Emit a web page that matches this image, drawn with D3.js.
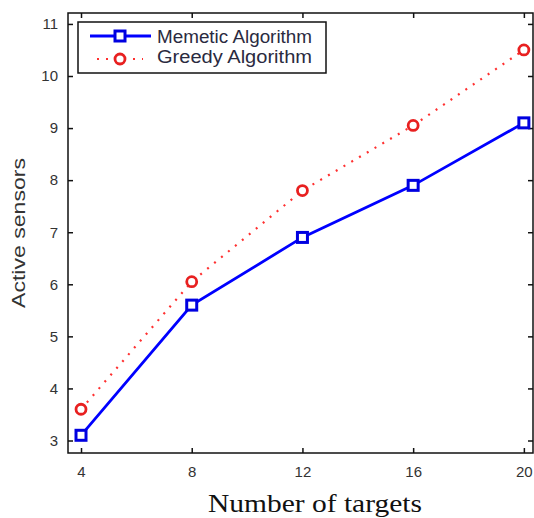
<!DOCTYPE html>
<html><head><meta charset="utf-8">
<script src="https://cdn.jsdelivr.net/npm/d3@7"></script>
<style>body{margin:0;background:#fff}</style>
</head><body>
<script>
const targets = [4, 8, 12, 16, 20];
const memetic = [3.1, 5.6, 6.9, 7.9, 9.1];
const greedy = [3.6, 6.05, 7.8, 9.05, 10.5];
const xTicks = [4, 8, 12, 16, 20];
const yTicks = [3, 4, 5, 6, 7, 8, 9, 10, 11];
const seriesNames = ["Memetic Algorithm", "Greedy Algorithm"];

const W = 534, H = 518;
const L = 68, R = 533, T = 13, B = 453;
const svg = d3.select("body").append("svg").attr("width", W).attr("height", H);

const x = d3.scaleLinear().domain([3.53, 20.33]).range([L, R]);
const y = d3.scaleLinear().domain([2.76, 11.21]).range([B, T]);

const tk = 5;
const axB = svg.append("g").attr("transform", `translate(0,${B})`)
  .call(d3.axisBottom(x).tickValues(xTicks).tickSize(-tk).tickPadding(13).tickFormat(d3.format("d")));
const axT = svg.append("g").attr("transform", `translate(0,${T})`)
  .call(d3.axisTop(x).tickValues(xTicks).tickSize(-tk).tickFormat(""));
const axL = svg.append("g").attr("transform", `translate(${L},0)`)
  .call(d3.axisLeft(y).tickValues(yTicks).tickSize(-tk).tickPadding(10).tickFormat(d3.format("d")));
const axR = svg.append("g").attr("transform", `translate(${R},0)`)
  .call(d3.axisRight(y).tickValues(yTicks).tickSize(-tk).tickFormat(""));
[axB, axT, axL, axR].forEach(g => {
  g.select(".domain").remove();
  g.selectAll(".tick line").attr("stroke", "#111").attr("stroke-width", 1.5);
  g.selectAll("text").attr("fill", "#333").style("font-family", "Liberation Sans, Arial, sans-serif").style("font-size", "15px");
});

svg.append("rect").attr("x", L).attr("y", T).attr("width", R - L).attr("height", B - T)
  .attr("fill", "none").attr("stroke", "#111").attr("stroke-width", 1.5);

const line = d3.line().x((d, i) => x(targets[i])).y(d => y(d));

svg.append("path").datum(greedy).attr("d", line).attr("fill", "none")
  .attr("stroke", "#ff3030").attr("stroke-width", 2.2).attr("stroke-dasharray", "2,7");
svg.append("path").datum(memetic).attr("d", line).attr("fill", "none")
  .attr("stroke", "#0000ff").attr("stroke-width", 2.8);

svg.selectAll(".gm").data(greedy).enter().append("circle")
  .attr("cx", (d, i) => x(targets[i])).attr("cy", d => y(d)).attr("r", 5)
  .attr("fill", "#fff").attr("stroke", "#e82020").attr("stroke-width", 2.8);
svg.selectAll(".mm").data(memetic).enter().append("rect")
  .attr("x", (d, i) => x(targets[i]) - 5).attr("y", d => y(d) - 5)
  .attr("width", 10).attr("height", 10)
  .attr("fill", "#fff").attr("stroke", "#0000e0").attr("stroke-width", 3);

// legend
const lg = svg.append("g");
lg.append("rect").attr("x", 78).attr("y", 22).attr("width", 248).attr("height", 51)
  .attr("fill", "#fff").attr("stroke", "#111").attr("stroke-width", 1.5);
lg.append("line").attr("x1", 90).attr("x2", 151).attr("y1", 36).attr("y2", 36)
  .attr("stroke", "#0000ff").attr("stroke-width", 3);
lg.append("rect").attr("x", 115).attr("y", 31).attr("width", 10).attr("height", 10)
  .attr("fill", "#fff").attr("stroke", "#0000e0").attr("stroke-width", 3);
lg.append("line").attr("x1", 97).attr("x2", 143).attr("y1", 59).attr("y2", 59)
  .attr("stroke", "#ff3030").attr("stroke-width", 2.2).attr("stroke-dasharray", "2,7");
lg.append("circle").attr("cx", 120).attr("cy", 59).attr("r", 5)
  .attr("fill", "#fff").attr("stroke", "#e82020").attr("stroke-width", 2.8);
lg.selectAll(".lt").data(seriesNames).enter().append("text")
  .attr("x", 157).attr("y", (d, i) => 43 + i * 20)
  .attr("textLength", 155).attr("lengthAdjust", "spacingAndGlyphs")
  .attr("fill", "#2a2a40").style("font-family", "Liberation Sans, Arial, sans-serif")
  .style("font-size", "18px").text(d => d);

// axis titles
svg.append("text").attr("x", 315).attr("y", 512).attr("text-anchor", "middle")
  .attr("textLength", 214).attr("lengthAdjust", "spacingAndGlyphs")
  .attr("fill", "#111").style("font-family", "Liberation Serif, Times New Roman, serif")
  .style("font-size", "25px").text("Number of targets");
svg.append("text").attr("transform", "translate(25,233) rotate(-90)").attr("text-anchor", "middle")
  .attr("textLength", 150).attr("lengthAdjust", "spacingAndGlyphs")
  .attr("fill", "#333").style("font-family", "Liberation Sans, Arial, sans-serif")
  .style("font-size", "19px").text("Active sensors");
</script>
</body></html>
